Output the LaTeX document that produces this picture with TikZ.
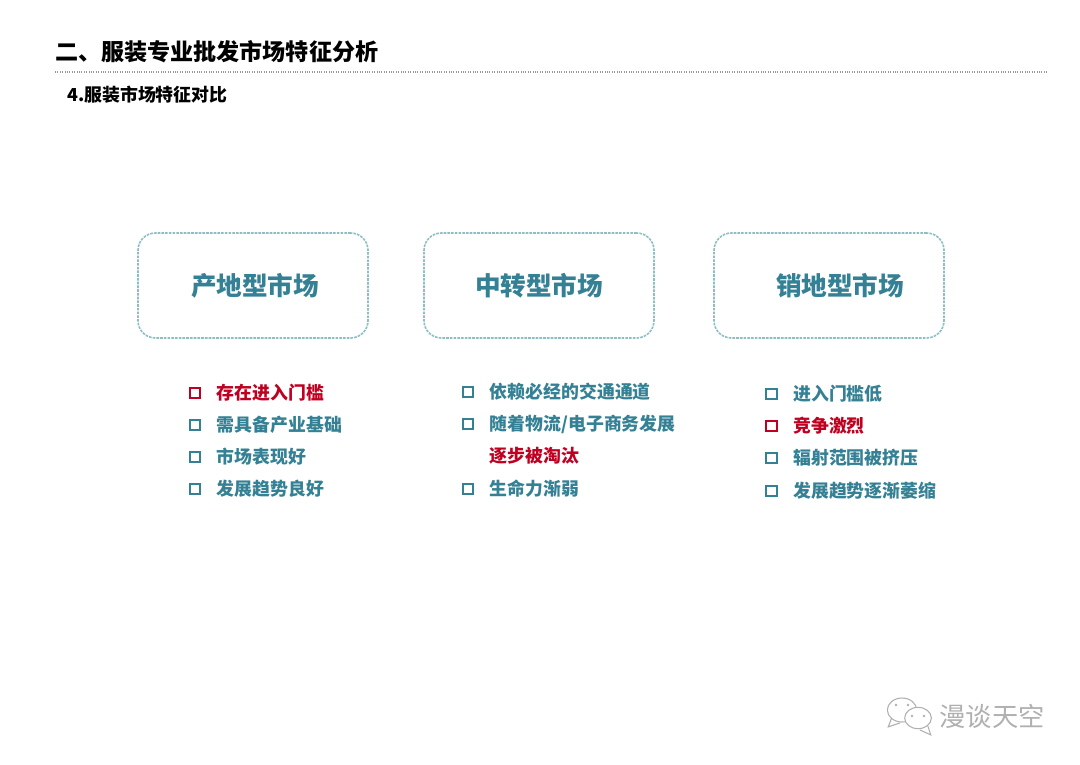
\documentclass[tikz,border=0pt]{standalone}
\usepackage{xcolor}
\usepackage{fontspec}
\setmainfont{Liberation Sans}
\newfontfamily\cjk{Noto Sans CJK SC}
\usetikzlibrary{positioning, shapes.geometric}
\definecolor{tealtext}{RGB}{52,128,148}
\definecolor{tealedge}{RGB}{140,190,196}
\definecolor{alertred}{RGB}{192,0,32}
\definecolor{markgray}{RGB}{176,176,176}

\begin{document}
\begin{tikzpicture}[
    x=0.75pt, y=-0.75pt,
    node distance=16pt and 12.25pt,
    heading/.style={inner sep=0pt, anchor=west, text=black, font=\cjk\bfseries\fontsize{17.3}{20}\selectfont},
    subhead/.style={inner sep=0pt, anchor=west, text=black, font=\cjk\bfseries\fontsize{13.4}{16}\selectfont},
    panel/.style={rectangle, rounded corners=13pt, draw=tealedge, dash pattern=on 2pt off 0.8pt, line width=1.2pt,
                  minimum width=172.5pt, minimum height=78.75pt, inner sep=0pt, outer sep=0pt,
                  text=tealtext, font=\cjk\bfseries\fontsize{19.2}{22}\selectfont},
    tick/.style={rectangle, draw=tealtext, line width=1.6pt, minimum size=8pt, inner sep=0pt, outer sep=0pt},
    redtick/.style={tick, draw=alertred},
    item/.style={inner sep=0pt, text=tealtext, font=\cjk\bfseries\fontsize{13.4}{16}\selectfont},
    reditem/.style={item, text=alertred},
    bubble/.style={ellipse, draw=markgray, fill=white, line width=0.8pt, inner sep=0pt},
    wmark/.style={inner sep=0pt, text=markgray, font=\cjk\fontsize{19.7}{22}\selectfont}
  ]
    \useasboundingbox (0,0) rectangle (1080,764);

    % page heading
    \node[heading] (title) at (55,52) {二、服装专业批发市场特征分析};
    \node[subhead] (sub) at (67,95) {4.服装市场特征对比};
    \coordinate (ruleL) at (55,72);
    \coordinate (ruleR) at (1048,72);
    \draw[black!40, densely dotted, line width=0.8pt] (ruleL) -- (ruleR);

    % three market boxes
    \node[panel] (origin) at (253,285.5) {\hspace*{3pt}产地型市场};
    \node[panel, right=42pt of origin] (transit) {中转型市场};
    \node[panel, right=45pt of transit] (sales) {\hspace*{16.5pt}销地型市场};

    % first column
    \node[redtick, below right=37.25pt and 38.75pt of origin.south west] (b11) {};
    \node[tick, below=of b11] (b12) {};
    \node[tick, below=of b12] (b13) {};
    \node[tick, below=of b13] (b14) {};
    \node[reditem, right=of b11] (t11) {存在进入门槛};
    \node[item, right=of b12] (t12) {需具备产业基础};
    \node[item, right=of b13] (t13) {市场表现好};
    \node[item, right=of b14] (t14) {发展趋势良好};

    % second column
    \node[tick, below right=36.5pt and 29pt of transit.south west] (b21) {};
    \node[tick, below=of b21] (b22) {};
    \node[tick, below=40.75pt of b22] (b23) {};
    \node[item, right=of b21] (t21) {依赖必经的交通通道};
    \node[item, right=of b22] (t22) {随着物流/电子商务发展};
    \node[reditem, below right=10pt and 0pt of t22.south west] (t2x) {逐步被淘汰};
    \node[item, right=of b23] (t23) {生命力渐弱};

    % third column
    \node[tick, below right=38pt and 39pt of sales.south west] (b31) {};
    \node[redtick, below=of b31] (b32) {};
    \node[tick, below=of b32] (b33) {};
    \node[tick, below=16.75pt of b33] (b34) {};
    \node[item, right=of b31] (t31) {进入门槛低};
    \node[reditem, right=of b32] (t32) {竞争激烈};
    \node[item, right=of b33] (t33) {辐射范围被挤压};
    \node[item, right=of b34] (t34) {发展趋势逐渐萎缩};

    % watermark
    \node[bubble, minimum width=22pt, minimum height=18pt] (chatA) at (902,710) {};
    \draw[markgray, line width=0.8pt] (chatA.south west) -- ++(-3,8) -- ++(12,-4);
    \node[bubble, minimum width=20pt, minimum height=16pt] (chatB) at (918,718) {};
    \draw[markgray, line width=0.8pt] (chatB.south east) -- ++(3,9) -- ++(-11,-5);
    \foreach \dx in {-6,6} {
      \fill[markgray] (chatA.center) ++(\dx,-5) circle (1.4);
      \fill[markgray] (chatB.center) ++(\dx,-2) circle (1.4);
    }
    \node[wmark] (brand) at (992,716) {漫谈天空};

  \end{tikzpicture}
\end{document}
